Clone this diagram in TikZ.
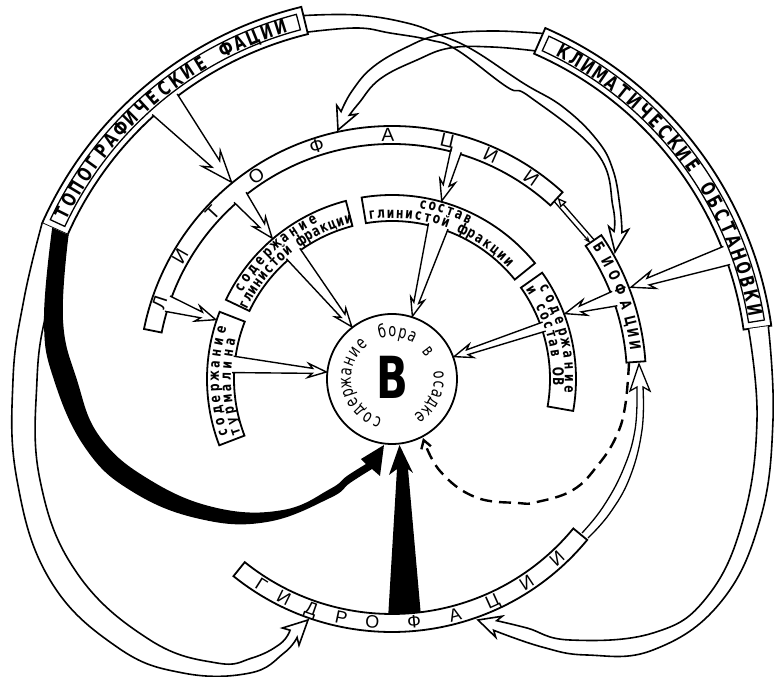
\documentclass[tikz,border=0pt]{standalone}
\usepackage{fontspec}
\setmainfont{DejaVu Sans}
\newfontfamily\hand[FakeStretch=0.72]{DejaVu Sans}
\newfontfamily\thinf{Liberation Sans}
\newfontfamily\bigb[FakeStretch=0.72]{DejaVu Sans}
\usetikzlibrary{calc,arrows.meta}
\tikzset{
 box/.style={draw,fill=white,line width=1.8pt,line join=miter},
 thinbox/.style={line width=1.3pt},
 band/.style={draw,fill=white,line width=1.6pt,line join=miter},
 openband/.style={draw,line width=1.6pt,line join=miter},
 arrowline/.style={draw,fill=white,line width=1.4pt,line join=miter},
 letter/.style={inner sep=0pt},
}
\newcommand\sector[5][]{\draw[box,#1] (#2:#5) arc[start angle=#2,end angle=#3,radius=#5] -- (#3:#4) arc[start angle=#3,end angle=#2,radius=#4] -- cycle;}
% #1 font, #2 baseline radius, #3 start angle, #4 step, #5 rotation offset, #6 letters
\newcommand\arcword[6]{\foreach \ch [count=\i from 0] in {#6}{\pgfmathsetmacro\ang{#3+\i*(#4)}\node[letter,anchor=base,font=#1,rotate=\ang+#5] at (\ang:#2) {\ch};}}
\newcommand\warrow[6]{%
 \coordinate (wa) at (#1); \coordinate (wb) at (#2); \coordinate (wt) at (#3);
 \coordinate (wm) at ($(wa)!0.5!(wb)$);
 \pgfmathsetmacro\wbk{#4*1.3}%
 \coordinate (wn) at ($(wt)!#4pt!(wm)$);
 \coordinate (wr) at ($(wt)!\wbk pt!(wm)$);
 \draw[arrowline] (wa) -- ($(wn)!#6pt!90:(wt)$) -- ($(wr)!#5pt!90:(wt)$) -- (wt) -- ($(wr)!#5pt!-90:(wt)$) -- ($(wn)!#6pt!-90:(wt)$) -- (wb);}
\newcommand\fA{\hand\bfseries\fontsize{19.5}{19.5}\selectfont}
\newcommand\fR{\hand\bfseries\fontsize{15}{15}\selectfont}
\newcommand\fC{\hand\fontsize{18}{18}\selectfont}
\newcommand\fL{\thinf\fontsize{19}{19}\selectfont}
\newcommand\fH{\thinf\fontsize{18}{18}\selectfont}
\newcommand\fB{\hand\bfseries\fontsize{15}{15}\selectfont}
\begin{document}
\begin{tikzpicture}[x=1pt,y=1pt]
\useasboundingbox (-392,-298) rectangle (382,379);
\fill[white] (-392,-298) rectangle (382,379);

% ---- outer label frames
\sector{103.7}{156}{355}{383}
\sector[thinbox,fill=none]{104.7}{155}{361}{377}
\sector{8}{66.4}{355}{383}
\sector[thinbox,fill=none]{9}{65.4}{361}{377}

% ---- ring of facies
\sector{47.6}{168.6}{235}{253}
\sector{4}{34.5}{235}{254}
\sector{231.2}{320.5}{235}{253}

% ---- inner ring of boxes
\sector{158.7}{201}{158}{185}
\sector{104.5}{154.5}{158}{184}
\sector{39}{99.5}{158}{184}
\sector{-10}{35.3}{158}{184}

\node[circle,draw,line width=1.8pt,fill=white,minimum size=130pt,inner sep=0pt] (core) at (0,0) {};

% ---- topographic -> hydro band
\draw[band] plot[smooth,tension=0.7] coordinates {(-349.9,155.8) (-368,80) (-379,-1) (-375,-101) (-342,-201) (-275,-268) (-209,-294) (-142,-294) (-108,-274) (-94.9,-258.4)}
 -- (-93,-266.2) -- (-84,-241) -- (-109.6,-249) -- (-101.9,-251.2)
 -- plot[smooth,tension=0.7] coordinates {(-101.9,-251.2) (-112,-265) (-140,-279) (-175,-284) (-242,-261) (-315,-194) (-352,-101) (-355,-1) (-345,70) (-324.3,144.4)};

% ---- climatic -> hydro band
\draw[band] plot[smooth,tension=0.7] coordinates {(376.3,52.9) (381,-41) (368,-141) (328,-224) (261,-271) (195,-276) (150,-268) (101.7,-251.3)}
 -- (103.7,-258.2) -- (86,-241) -- (110.3,-237.2) -- (104.7,-241.7)
 -- plot[smooth,tension=0.7] coordinates {(104.7,-241.7) (135,-249) (178,-261) (261,-254) (315,-218) (351,-141) (365,-41) (356.5,50.1)};

% ---- topographic -> bio band
\draw[openband] plot[smooth,tension=0.7] coordinates {(-88.6,363.4) (-35,364) (15,356) (48,344) (81,329) (131,296) (171,272) (205,239) (221,209) (228,172) (230,146.4)}
 -- (236.5,149.5) -- (223,127) -- (216.7,152.5) -- (222,147.6)
 -- plot[smooth,tension=0.7] coordinates {(222,147.6) (221,172) (205,226) (138,282) (115,292) (65,329) (38,339) (-2,346) (-35,351) (-84.5,346.9)};

% ---- climatic -> litho band
\draw[openband] plot[smooth,tension=0.7] coordinates {(150.9,345.5) (98,348) (48,344) (15,332) (-19,312) (-40,288) (-50.9,267.4)}
 -- (-55.3,273.7) -- (-54,249) -- (-35.1,264.9) -- (-42.7,263.8)
 -- plot[smooth,tension=0.7] coordinates {(-42.7,263.8) (-33,276) (-12,300) (25,319) (58,331) (100,332) (143.3,328.1)};

% ---- hydro -> bio narrow arrow
\draw[band,line width=1.3pt] plot[smooth,tension=0.7] coordinates {(190,-154) (211,-128) (231,-91) (243,-51) (245,-8)}
 -- (238,-12) -- (247,15) -- (258,-12) -- (251,-8)
 -- plot[smooth,tension=0.7] coordinates {(251,-8) (250,-51) (238,-98) (218,-134) (196,-159)};

% ---- black arrows
\fill[black] plot[smooth,tension=0.7] coordinates {(-339.8,151.3) (-348,59) (-338,-1) (-306,-70) (-259,-113) (-192,-140) (-125,-143) (-62,-119) (-42,-104) (-20,-90)}
 -- (-12,-97) -- (-8,-66) -- (-31,-80) -- (-26,-85)
 -- plot[smooth,tension=0.7] coordinates {(-26,-85) (-45,-97) (-62,-110) (-109,-131) (-175,-129) (-242,-101) (-292,-58) (-315,-1) (-329,59) (-323.4,144)} -- cycle;
\fill[black] (269.1:235) -- (5,-90) -- (-3,-96) -- (7.5,-66) -- (21,-94) -- (16,-90) -- (277:235) -- cycle;

% ---- straight arrows
\warrow{127:357}{132.2:357}{129.2:254}{24}{12}{5}
\warrow{18.7:357}{21.8:357}{21:256}{18}{9}{3.5}
\warrow{18:237}{21.7:237}{20.7:185}{16}{8}{3}
\warrow{73:237}{75.6:237}{74.4:185}{16}{8}{3}
\warrow{128:237}{131.8:237}{130.4:185}{16}{8}{3}
\warrow{159.5:237}{163.4:237}{161.4:186}{15}{8}{3}
\warrow{171.8:160}{177.7:160}{173.9:66}{14}{7}{2.5}
\warrow{125.2:160}{131.3:160}{127.6:66}{14}{7}{2.5}
\warrow{69.5:160}{76.8:160}{72:66}{14}{7}{2.5}
\warrow{17.3:161}{20.7:161}{19.8:66}{14}{7}{2.5}

% ---- litho <-> bio
\draw[line width=1.3pt,-{Triangle[open,length=9pt,width=8pt]}] (202.1,139.2) -- (165.7,181.1);
\draw[line width=1.3pt,-{Stealth[length=7pt,width=5pt]}] (161.9,177.9) -- (198.3,136);

% ---- dashed feedback
\draw[line width=2.4pt,dash pattern=on 12pt off 7pt,-{Straight Barb[length=8pt,width=10pt]}] plot[smooth,tension=0.7] coordinates {(237,16) (233,-28) (224,-58) (206,-86) (181,-111) (145,-123) (126,-124) (83,-118) (48,-92) (31,-59)};

% ---- texts
\arcword{\fA}{362}{153.3}{-2.285}{-90}{Т,О,П,О,Г,Р,А,Ф,И,Ч,Е,С,К,И,Е,{},Ф,А,Ц,И,И}
\arcword{\fA}{362}{62.3}{-2.24}{-90}{К,Л,И,М,А,Т,И,Ч,Е,С,К,И,Е,{},О,Б,С,Т,А,Н,О,В,К,И}
\foreach \a/\c in {161.9/Л,150/И,137.2/Т,123.7/О,107.9/Ф,91/А,76.9/Ц,66.2/И,55.3/И}
 {\node[letter,anchor=base,font=\fL,rotate=\a-90] at (\a:238) {\c};}
\foreach \a/\c in {237.6/Г,243.7/И,250.7/Д,258/Р,265.4/О,275.2/Ф,285/А,294.3/Ц,303.5/И,312.6/И}
 {\node[letter,anchor=base,font=\fH,rotate=\a+90] at (\a:250) {\c};}
\foreach \a/\c in {32.4/Б,28.5/И,25/О,21.5/Ф,17.5/А,13.6/Ц,10.8/И,7.9/И}
 {\node[letter,anchor=base,font=\fB,rotate=\a-90] at (\a:240) {\c};}
% ring boxes
\arcword{\fR}{173}{197.7}{-3.74}{-90}{с,о,д,е,р,ж,а,н,и,е}
\arcword{\fR}{161}{198.8}{-3.95}{-90}{т,у,р,м,а,л,и,н,а}
\arcword{\fR}{173}{149}{-3.6}{-90}{с,о,д,е,р,ж,а,н,и,е}
\arcword{\fR}{161}{153.3}{-3.0}{-90}{г,л,и,н,и,с,т,о,й,{},ф,р,а,к,ц,и,и}
\arcword{\fR}{173}{79.8}{-3.0}{-90}{с,о,с,т,а,в}
\arcword{\fR}{161}{97}{-3.24}{-90}{г,л,и,н,и,с,т,о,й,{},ф,р,а,к,ц,и,и}
\arcword{\fR}{173}{30.7}{-3.8}{-90}{с,о,д,е,р,ж,а,н,и,е}
\arcword{\fR}{161}{32.5}{-3.35}{-90}{и,{},с,о,с,т,а,в,{},О,В}
% core circle
\arcword{\fC}{41}{251}{-13.3}{-90}{с,о,д,е,р,ж,а,н,и,е}
\arcword{\fC}{42}{102}{-12.5}{-90}{б,о,р,а}
\arcword{\fC}{40}{37.6}{0}{-90}{в}
\arcword{\fC}{42}{5}{-11.7}{-90}{о,с,а,д,к,е}
\node[font=\bigb\bfseries\fontsize{58}{58}\selectfont,inner sep=0pt] (bsym) at (0.5,1.5) {B};
\end{tikzpicture}
\end{document}
